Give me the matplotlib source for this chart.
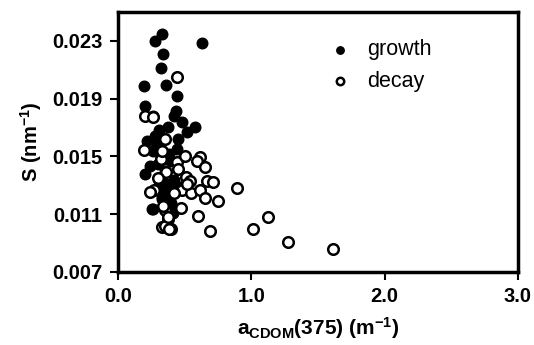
import matplotlib
matplotlib.use("Agg")
import matplotlib.pyplot as plt

plt.rcParams['font.family'] = ['Liberation Sans', 'DejaVu Sans']
plt.rcParams['mathtext.fontset'] = 'custom'
plt.rcParams['mathtext.rm'] = 'Liberation Sans'
plt.rcParams['mathtext.bf'] = 'Liberation Sans:bold'
plt.rcParams['mathtext.it'] = 'Liberation Sans:italic'
plt.rcParams['mathtext.default'] = 'bf'

growth_x = [0.328, 0.278, 0.628, 0.34, 0.323, 0.195, 0.36, 0.445, 0.2025, 0.265,
            0.435, 0.42, 0.478, 0.578, 0.518, 0.378, 0.31, 0.278, 0.215, 0.26,
            0.45, 0.24, 0.2025, 0.32, 0.38, 0.40, 0.35, 0.315, 0.37, 0.328,
            0.265, 0.40, 0.42, 0.47, 0.41, 0.253, 0.30, 0.36, 0.33, 0.39,
            0.29, 0.44, 0.35, 0.31, 0.38]
growth_y = [0.02346, 0.0230, 0.02284, 0.0221, 0.0211, 0.01985, 0.01994, 0.0192, 0.01846, 0.01781,
            0.01816, 0.01781, 0.01736, 0.01701, 0.01666, 0.01701, 0.0168, 0.01643, 0.01608, 0.0154,
            0.0162, 0.01436, 0.01378, 0.0150, 0.0152, 0.0147, 0.0140, 0.01297, 0.0125, 0.01205,
            0.01136, 0.0118, 0.0134, 0.0129, 0.0111, 0.01136, 0.0145, 0.0131, 0.0122, 0.0128,
            0.0159, 0.0155, 0.0148, 0.0133, 0.0119]

decay_x = [0.44, 0.2025, 0.265, 0.35, 0.197, 0.32, 0.44, 0.503, 0.615, 0.59,
           0.653, 0.36, 0.51, 0.54, 0.665, 0.715, 0.893, 0.27, 0.48, 0.55,
           0.615, 0.653, 0.753, 0.47, 0.35, 0.603, 0.378, 0.328, 0.40, 0.69,
           1.01, 1.128, 1.278, 1.615, 0.24, 0.34, 0.35, 0.385, 0.378, 0.515,
           0.30, 0.42, 0.33, 0.45]
decay_y = [0.02047, 0.01781, 0.0177, 0.0162, 0.01546, 0.0148, 0.0146, 0.01505, 0.01494, 0.0147,
           0.01425, 0.0139, 0.0136, 0.0133, 0.01332, 0.0132, 0.01279, 0.0127, 0.0127, 0.0125,
           0.0127, 0.0121, 0.01194, 0.0114, 0.0113, 0.0109, 0.01067, 0.01009, 0.0100, 0.00986,
           0.00998, 0.01079, 0.0091, 0.0086, 0.01251, 0.0116, 0.0102, 0.0100, 0.0108, 0.0131,
           0.0135, 0.0125, 0.0154, 0.0141]

xticks = [0.0, 1.0, 2.0, 3.0]
yticks = [0.007, 0.011, 0.015, 0.019, 0.023]

fig = plt.figure(figsize=(5.34, 3.45), dpi=100)
ax = fig.add_axes([0.221, 0.2116, 0.749, 0.7536])

ax.scatter(growth_x, growth_y, s=58, c='black', edgecolors='black', linewidths=1.0,
           label='growth', zorder=3)
ax.scatter(decay_x, decay_y, s=58, facecolors='white', edgecolors='black', linewidths=1.8,
           label='decay', zorder=3)

ax.set_xlim(0.0, 3.0)
ax.set_ylim(0.007, 0.025)
ax.set_xticks(xticks)
ax.set_xticklabels([f'{v:.1f}' for v in xticks])
ax.set_yticks(yticks)
ax.set_yticklabels([f'{v:.3f}' for v in yticks])

for sp in ax.spines.values():
    sp.set_linewidth(2.5)
ax.tick_params(axis='both', direction='out', length=6, width=1.5, labelsize=14.5, pad=5)
for lab in ax.get_xticklabels() + ax.get_yticklabels():
    lab.set_fontweight('bold')

ax.set_xlabel('a$_{CDOM}$(375) (m$^{-1}$)', fontsize=15, fontweight='bold', labelpad=6)
ax.set_ylabel('S (nm$^{-1}$)', fontsize=14.5, fontweight='bold', labelpad=6)

leg = ax.legend(loc='upper left', bbox_to_anchor=(0.50, 0.895), frameon=False,
                fontsize=15.5, handletextpad=0.3, labelspacing=0.5, markerscale=0.7,
                scatterpoints=1, borderaxespad=0.0, borderpad=0.0)

fig.savefig('out.png', dpi=100)
